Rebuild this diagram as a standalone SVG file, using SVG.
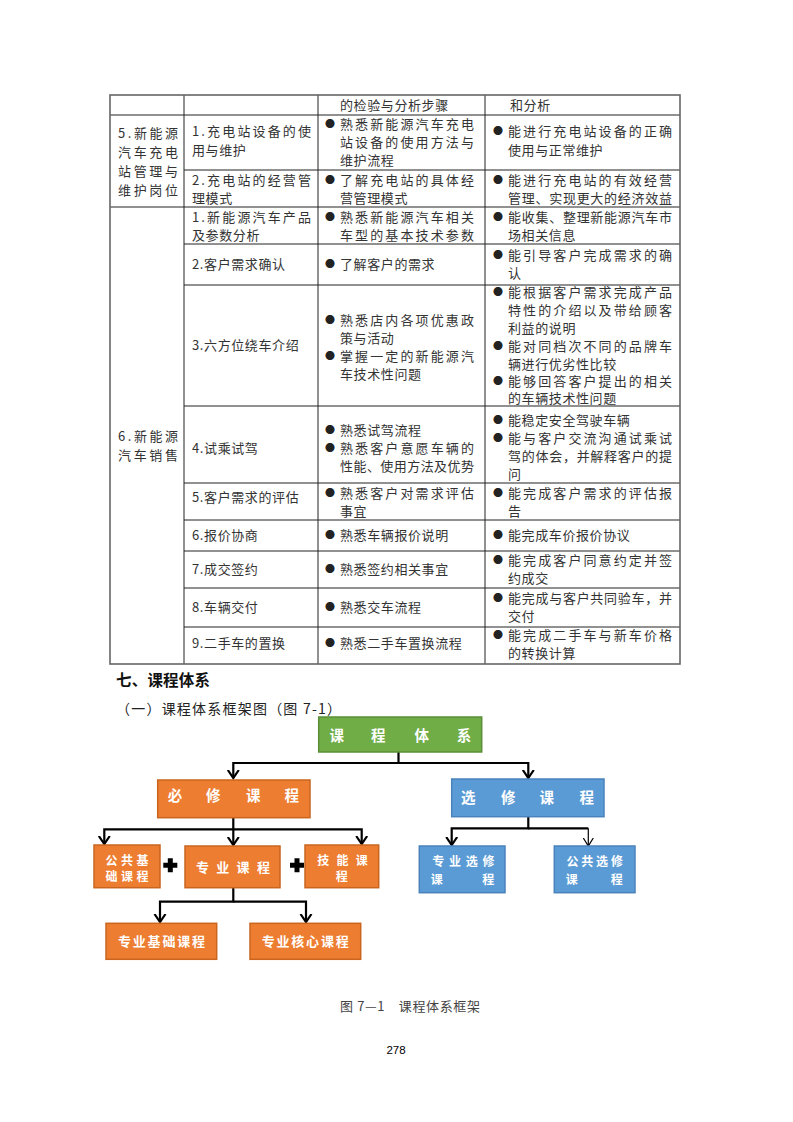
<svg xmlns="http://www.w3.org/2000/svg" width="793" height="1122" viewBox="0 0 793 1122">
<style>
text{font-family:"Noto Sans CJK SC","Noto Sans",sans-serif}
.t{font-size:13px;fill:#333;letter-spacing:0.6px}
.j{font-size:13px;fill:#333}
.b{font-size:10px;fill:#222}
.in{stroke:#222;stroke-width:1;fill:none}
.out{stroke:#666;stroke-width:1.6;fill:none}
.lbl{font-size:13px;font-weight:bold;fill:#fff;text-anchor:middle}
.lbl2{font-size:12px;font-weight:bold;fill:#fff;text-anchor:middle}
.big{font-size:14.5px;font-weight:bold;fill:#fff;text-anchor:middle}
.or{fill:#ED7D31;stroke:#C9651F;stroke-width:1.5}
.bl{fill:#5B9BD5;stroke:#4A83BC;stroke-width:1.5}
.gr{fill:#70AD47;stroke:#5A8F37;stroke-width:1.5}
.c{fill:none;stroke:#000;stroke-width:2.2}
.ct{fill:none;stroke:#000;stroke-width:1.2}
</style>
<defs>
<marker id="ah" markerUnits="userSpaceOnUse" markerWidth="16" markerHeight="16" viewBox="-8 -8 16 16" refX="0" refY="0" orient="auto">
<path d="M-8,-5.5 L0,0 L-8,5.5" fill="none" stroke="#000" stroke-width="2.2"/>
</marker>
<marker id="aht" markerUnits="userSpaceOnUse" markerWidth="16" markerHeight="16" viewBox="-8 -8 16 16" refX="0" refY="0" orient="auto">
<path d="M-8,-5 L0,0 L-8,5" fill="none" stroke="#000" stroke-width="1.2"/>
</marker>
</defs>
<rect width="793" height="1122" fill="#fff"/>

<g id="table">
<g id="table-lines">
<path class="in" d="M184,95V664M318,95V664M485,95V664"/>
<path class="in" d="M110,115H680M184,170H680M110,207H680M184,244H680M184,285H680M184,406H680M184,483H680M184,520H680M184,551H680M184,588H680M184,627H680"/>
<rect class="out" x="110" y="95" width="570" height="569"/>
</g>
<g id="row-0">
<text class="t" x="340" y="110">的检验与分析步骤</text>
<text class="t" x="510" y="110">和分析</text>
</g>
<g id="row-5">
<text class="j" x="118" y="138" textLength="60" lengthAdjust="spacing">5.新能源</text>
<text class="j" x="118" y="157" textLength="60" lengthAdjust="spacing">汽车充电</text>
<text class="j" x="118" y="176" textLength="60" lengthAdjust="spacing">站管理与</text>
<text class="j" x="118" y="195" textLength="60" lengthAdjust="spacing">维护岗位</text>
<text class="j" x="192" y="136" textLength="119" lengthAdjust="spacing">1.充电站设备的使</text>
<text class="t" x="192" y="155">用与维护</text>
<text class="b" x="325" y="128">●</text>
<text class="j" x="340" y="129" textLength="134" lengthAdjust="spacing">熟悉新能源汽车充电</text>
<text class="j" x="340" y="147" textLength="134" lengthAdjust="spacing">站设备的使用方法与</text>
<text class="t" x="340" y="165">维护流程</text>
<text class="b" x="493" y="135">●</text>
<text class="j" x="508" y="136" textLength="164" lengthAdjust="spacing">能进行充电站设备的正确</text>
<text class="t" x="508" y="155">使用与正常维护</text>
<text class="j" x="192" y="185" textLength="119" lengthAdjust="spacing">2.充电站的经营管</text>
<text class="t" x="192" y="203">理模式</text>
<text class="b" x="325" y="184">●</text>
<text class="j" x="340" y="185" textLength="134" lengthAdjust="spacing">了解充电站的具体经</text>
<text class="t" x="340" y="203">营管理模式</text>
<text class="b" x="493" y="184">●</text>
<text class="j" x="508" y="185" textLength="164" lengthAdjust="spacing">能进行充电站的有效经营</text>
<text class="j" x="508" y="203" textLength="164" lengthAdjust="spacing">管理、实现更大的经济效益</text>
</g>
<g id="row-6">
<text class="j" x="118" y="441" textLength="60" lengthAdjust="spacing">6.新能源</text>
<text class="j" x="118" y="460" textLength="60" lengthAdjust="spacing">汽车销售</text>

<text class="j" x="192" y="222" textLength="119" lengthAdjust="spacing">1.新能源汽车产品</text>
<text class="t" x="192" y="240">及参数分析</text>
<text class="b" x="325" y="221">●</text>
<text class="j" x="340" y="222" textLength="134" lengthAdjust="spacing">熟悉新能源汽车相关</text>
<text class="j" x="340" y="240" textLength="134" lengthAdjust="spacing">车型的基本技术参数</text>
<text class="b" x="493" y="221">●</text>
<text class="j" x="508" y="222" textLength="164" lengthAdjust="spacing">能收集、整理新能源汽车市</text>
<text class="t" x="508" y="240">场相关信息</text>

<text class="t" x="192" y="269">2.客户需求确认</text>
<text class="b" x="325" y="268">●</text>
<text class="t" x="340" y="269">了解客户的需求</text>
<text class="b" x="493" y="259">●</text>
<text class="j" x="508" y="260" textLength="164" lengthAdjust="spacing">能引导客户完成需求的确</text>
<text class="t" x="508" y="278">认</text>

<text class="t" x="192" y="350">3.六方位绕车介绍</text>
<text class="b" x="325" y="324">●</text>
<text class="j" x="340" y="325" textLength="134" lengthAdjust="spacing">熟悉店内各项优惠政</text>
<text class="t" x="340" y="343">策与活动</text>
<text class="b" x="325" y="360">●</text>
<text class="j" x="340" y="361" textLength="134" lengthAdjust="spacing">掌握一定的新能源汽</text>
<text class="t" x="340" y="379">车技术性问题</text>
<text class="b" x="493" y="296">●</text>
<text class="j" x="508" y="297" textLength="164" lengthAdjust="spacing">能根据客户需求完成产品</text>
<text class="j" x="508" y="315" textLength="164" lengthAdjust="spacing">特性的介绍以及带给顾客</text>
<text class="t" x="508" y="333">利益的说明</text>
<text class="b" x="493" y="350">●</text>
<text class="j" x="508" y="351" textLength="164" lengthAdjust="spacing">能对同档次不同的品牌车</text>
<text class="t" x="508" y="369">辆进行优劣性比较</text>
<text class="b" x="493" y="385">●</text>
<text class="j" x="508" y="386" textLength="164" lengthAdjust="spacing">能够回答客户提出的相关</text>
<text class="t" x="508" y="403">的车辆技术性问题</text>

<text class="t" x="192" y="453">4.试乘试驾</text>
<text class="b" x="325" y="434">●</text>
<text class="t" x="340" y="435">熟悉试驾流程</text>
<text class="b" x="325" y="452">●</text>
<text class="j" x="340" y="453" textLength="134" lengthAdjust="spacing">熟悉客户意愿车辆的</text>
<text class="j" x="340" y="471" textLength="134" lengthAdjust="spacing">性能、使用方法及优势</text>
<text class="b" x="493" y="424">●</text>
<text class="t" x="508" y="425">能稳定安全驾驶车辆</text>
<text class="b" x="493" y="442">●</text>
<text class="j" x="508" y="443" textLength="164" lengthAdjust="spacing">能与客户交流沟通试乘试</text>
<text class="j" x="508" y="461" textLength="164" lengthAdjust="spacing">驾的体会，并解释客户的提</text>
<text class="t" x="508" y="479">问</text>

<text class="t" x="192" y="502">5.客户需求的评估</text>
<text class="b" x="325" y="497">●</text>
<text class="j" x="340" y="498" textLength="134" lengthAdjust="spacing">熟悉客户对需求评估</text>
<text class="t" x="340" y="516">事宜</text>
<text class="b" x="493" y="497">●</text>
<text class="j" x="508" y="498" textLength="164" lengthAdjust="spacing">能完成客户需求的评估报</text>
<text class="t" x="508" y="516">告</text>

<text class="t" x="192" y="540">6.报价协商</text>
<text class="b" x="325" y="539">●</text>
<text class="t" x="340" y="540">熟悉车辆报价说明</text>
<text class="b" x="493" y="539">●</text>
<text class="t" x="508" y="540">能完成车价报价协议</text>

<text class="t" x="192" y="574">7.成交签约</text>
<text class="b" x="325" y="573">●</text>
<text class="t" x="340" y="574">熟悉签约相关事宜</text>
<text class="b" x="493" y="564">●</text>
<text class="j" x="508" y="565" textLength="164" lengthAdjust="spacing">能完成客户同意约定并签</text>
<text class="t" x="508" y="583">约成交</text>

<text class="t" x="192" y="612">8.车辆交付</text>
<text class="b" x="325" y="611">●</text>
<text class="t" x="340" y="612">熟悉交车流程</text>
<text class="b" x="493" y="602">●</text>
<text class="j" x="508" y="603" textLength="164" lengthAdjust="spacing">能完成与客户共同验车，并</text>
<text class="t" x="508" y="621">交付</text>

<text class="t" x="192" y="648">9.二手车的置换</text>
<text class="b" x="325" y="647">●</text>
<text class="t" x="340" y="648">熟悉二手车置换流程</text>
<text class="b" x="493" y="639">●</text>
<text class="j" x="508" y="640" textLength="164" lengthAdjust="spacing">能完成二手车与新车价格</text>
<text class="t" x="508" y="658">的转换计算</text>
</g>
</g>

<g id="headings">
<text x="116" y="686" font-size="15.5" font-weight="bold" fill="#111" textLength="94" lengthAdjust="spacing">七、课程体系</text>
<text x="116" y="714" font-size="14" fill="#222" textLength="225" lengthAdjust="spacing">（一）课程体系框架图（图 7-1）</text>
</g>

<g id="connectors">
<path class="c" d="M398.5,752V763H233.3V778" marker-end="url(#ah)"/>
<path class="c" d="M398.5,763H528.3V778" marker-end="url(#ah)"/>
<path class="c" d="M233.3,818V829.3H104.3V844" marker-end="url(#ah)"/>
<path class="c" d="M233.3,829.3V845" marker-end="url(#ah)"/>
<path class="c" d="M233.3,829.3H361.7V844" marker-end="url(#ah)"/>
<path class="c" d="M233.3,888V901.7H160V922" marker-end="url(#ah)"/>
<path class="c" d="M233.3,901.7H306V922" marker-end="url(#ah)"/>
<path class="c" d="M528.3,817V828.3H451.7V845" marker-end="url(#ah)"/>
<path class="c" d="M528.3,828.3H588.3"/>
<path class="ct" d="M588.3,828.3V846" marker-end="url(#aht)"/>
</g>

<g id="plus-signs" fill="#000">
<path d="M167.8,858.3h5v4.5h4.5v5h-4.5v4.5h-5v-4.5h-4.5v-5h4.5z"/>
<path d="M294.5,858.3h5v4.5h4.5v5h-4.5v4.5h-5v-4.5h-4.5v-5h4.5z"/>
</g>

<g id="node-root">
<rect class="gr" x="318.7" y="717" width="163" height="35"/>
<text class="big" x="336.7 378.3 421.7 464" y="740.5">课程体系</text>
</g>
<g id="node-bixiu">
<rect class="or" x="157.7" y="780" width="152.3" height="37.7"/>
<text class="big" x="175 213.3 253.3 291.7" y="800.5">必修课程</text>
</g>
<g id="node-xuanxiu">
<rect class="bl" x="451.7" y="779" width="152.3" height="37.7"/>
<text class="big" x="468.3 508.3 546.7 586.7" y="802.5">选修课程</text>
</g>
<g id="node-gonggong-jichu">
<rect class="or" x="94" y="845" width="66" height="42.7"/>
<text class="lbl2" x="111.5 127 142.5" y="864.5">公共基</text>
<text class="lbl2" x="111.5 127 142.5" y="881">础课程</text>
</g>
<g id="node-zhuanye">
<rect class="or" x="185" y="846" width="95" height="41.7"/>
<text class="lbl" x="202.5 222.8 243.1 263.4" y="871.5">专业课程</text>
</g>
<g id="node-jineng">
<rect class="or" x="305" y="845" width="73.7" height="42.7"/>
<text class="lbl2" x="323.2 342.5 361.8" y="864.5">技能课</text>
<text class="lbl2" x="341.7" y="881">程</text>
</g>
<g id="node-zhuanye-jichu">
<rect class="or" x="106" y="923.3" width="110.7" height="36"/>
<text class="lbl" x="124.5 139.3 154.1 168.9 183.7 198.5" y="946">专业基础课程</text>
</g>
<g id="node-zhuanye-hexin">
<rect class="or" x="250" y="923.3" width="110.7" height="36"/>
<text class="lbl" x="268.2 283 297.8 312.6 327.4 342.2" y="946">专业核心课程</text>
</g>
<g id="node-zhuanye-xuanxiu">
<rect class="bl" x="419.3" y="846" width="85.7" height="46.7"/>
<text class="lbl2" x="438.2 455 471.8 488.6" y="866">专业选修</text>
<text class="lbl2" x="436.7 488.3" y="883.5">课程</text>
</g>
<g id="node-gonggong-xuanxiu">
<rect class="bl" x="554.3" y="846" width="80.7" height="46.7"/>
<text class="lbl2" x="572.5 587.3 602.1 616.9" y="866">公共选修</text>
<text class="lbl2" x="571.7 616.7" y="883.5">课程</text>
</g>

<g id="caption">
<text x="340" y="1011" font-size="13" fill="#444" textLength="140" lengthAdjust="spacing">图 7—1　课程体系框架</text>
<text x="396" y="1054" font-size="11.5" fill="#000" text-anchor="middle" style="font-family:'Liberation Sans',sans-serif">278</text>
</g>
</svg>
